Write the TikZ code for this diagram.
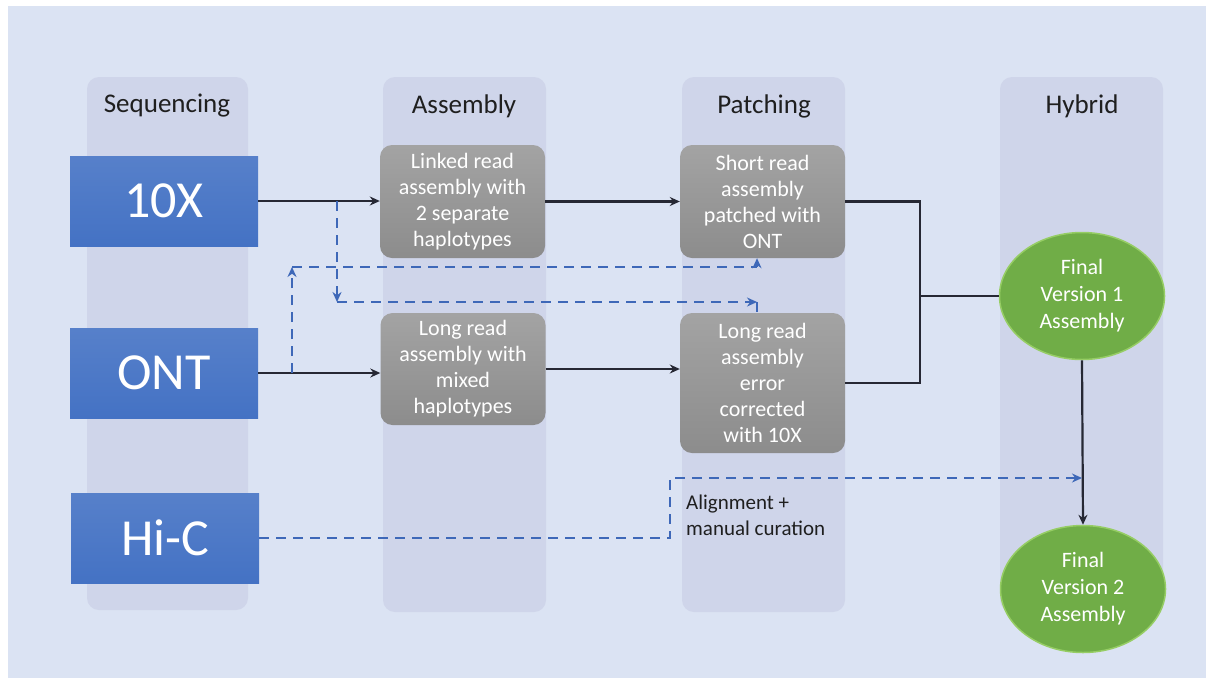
\documentclass[tikz,border=0pt]{standalone}
\usepackage{fontspec}
\setmainfont{Carlito}
\usetikzlibrary{arrows.meta,shapes.geometric}
\definecolor{bgc}{RGB}{219,227,243}
\definecolor{colc}{RGB}{207,213,234}
\definecolor{blueb}{RGB}{68,114,196}
\definecolor{greenb}{RGB}{112,173,71}
\definecolor{greenedge}{RGB}{150,205,100}
\definecolor{linec}{RGB}{38,40,52}
\definecolor{dashc}{RGB}{62,104,184}
\begin{document}
\begin{tikzpicture}[x=1pt,y=-1pt,
  lane/.style={fill=colc, rounded corners=12pt, draw=none},
  header/.style={font=\fontsize{27}{30}\selectfont, text=black!88, inner sep=0pt},
  seqbox/.style={top color=blueb!90!white, bottom color=blueb, text=white,
    font=\fontsize{52}{56}\selectfont, minimum width=188pt, minimum height=90pt, inner sep=0pt},
  procbox/.style={rounded corners=12pt, top color=black!36, bottom color=black!45, text=white,
    align=center, font=\fontsize{22}{26}\selectfont, minimum width=165pt, inner sep=0pt},
  finalnode/.style={ellipse, fill=greenb, draw=greenedge, line width=1.5pt, text=white,
    align=center, font=\fontsize{22}{27}\selectfont, minimum width=165pt, minimum height=127pt, inner sep=0pt},
  flow/.style={draw=linec, line width=2.2pt, -{Stealth[length=10pt,width=9pt]}},
  link/.style={draw=linec, line width=2.2pt},
  dashflow/.style={draw=dashc, line width=2.6pt, dash pattern=on 10pt off 7pt},
  dtip/.style={-{Stealth[length=10pt,width=9pt]}},
  note/.style={font=\fontsize{21}{26}\selectfont, align=left, text=black!88, inner sep=0pt}
]
\useasboundingbox (0,0) rectangle (1206,678);
\fill[white] (0,0) rectangle (1206,678);
\fill[bgc] (8,6) rectangle (1206,678);

% lanes
\fill[lane] (87,77) rectangle (248,610);
\fill[lane] (383,77) rectangle (546,612);
\fill[lane] (682,77) rectangle (845,612);
\fill[lane] (1000,77) rectangle (1163,612);

% headers
\node[header] (hseq) at (167,106) {Sequencing};
\node[header] (hasm) at (464,106) {Assembly};
\node[header] (hpat) at (764,106) {Patching};
\node[header] (hhyb) at (1082,106) {Hybrid};

% sequencing boxes
\node[seqbox] (tenx) at (164,201) {10X};
\node[seqbox] (ont) at (164,373) {ONT};
\node[seqbox] (hic) at (165,538) {Hi-C};

% process boxes
\node[procbox, minimum height=113pt] (linked) at (462.5,201.5) {Linked read\\assembly with\\2 separate\\haplotypes};
\node[procbox, minimum height=112pt] (longmix) at (463,369) {Long read\\assembly with\\mixed\\haplotypes};
\node[procbox, minimum height=113pt] (short) at (762.5,201.5) {Short read\\assembly\\patched with\\ONT};
\node[procbox, minimum height=140pt] (longerr) at (762.5,383) {Long read\\assembly\\error\\corrected\\with 10X};

% final assemblies
\node[finalnode] (v1) at (1082,296) {Final\\Version 1\\Assembly};
\node[finalnode] (v2) at (1083,589) {Final\\Version 2\\Assembly};

% note
\node[note, anchor=west] (align) at (686,515) {Alignment +\\manual curation};

% solid flows
\draw[flow] (tenx.east) -- (tenx.east -| linked.west);
\draw[flow] (linked.east) -- (linked.east -| short.west);
\draw[flow] (ont.east) -- (ont.east -| longmix.west);
\draw[flow] (longmix.east) -- (longmix.east -| longerr.west);
\coordinate (jn) at (920,296);
\draw[link] (short.east) -| (jn) |- (longerr.east);
\draw[link] (jn) -- (v1.west);
\draw[flow] (v1.south) -- (v2.north);

% dashed: 10X -> long read error corrected
\coordinate (a1) at (337,201);
\coordinate (a2) at (337,302);
\coordinate (a3) at (757,302);
\draw[dashflow,dtip] (a1) -- (a2);
\draw[dashflow,dtip] (a2) -- (a3);
\draw[dashflow] (a3) -- (a3 |- longerr.north);

% dashed: ONT -> short read patched
\coordinate (b1) at (292,373);
\coordinate (b2) at (292,267);
\coordinate (b3) at (757,267);
\draw[dashflow,dtip] (b1) -- (b2);
\draw[dashflow] (b2) -- (b3);
\draw[dashflow,dtip] (b3) -- (b3 |- short.south);

% dashed: Hi-C -> final version 2 line
\coordinate (c2) at (670,478);
\coordinate (c3) at (1082,478);
\draw[dashflow,dtip] (hic.east) -| (c2) -- (c3);
\end{tikzpicture}
\end{document}
